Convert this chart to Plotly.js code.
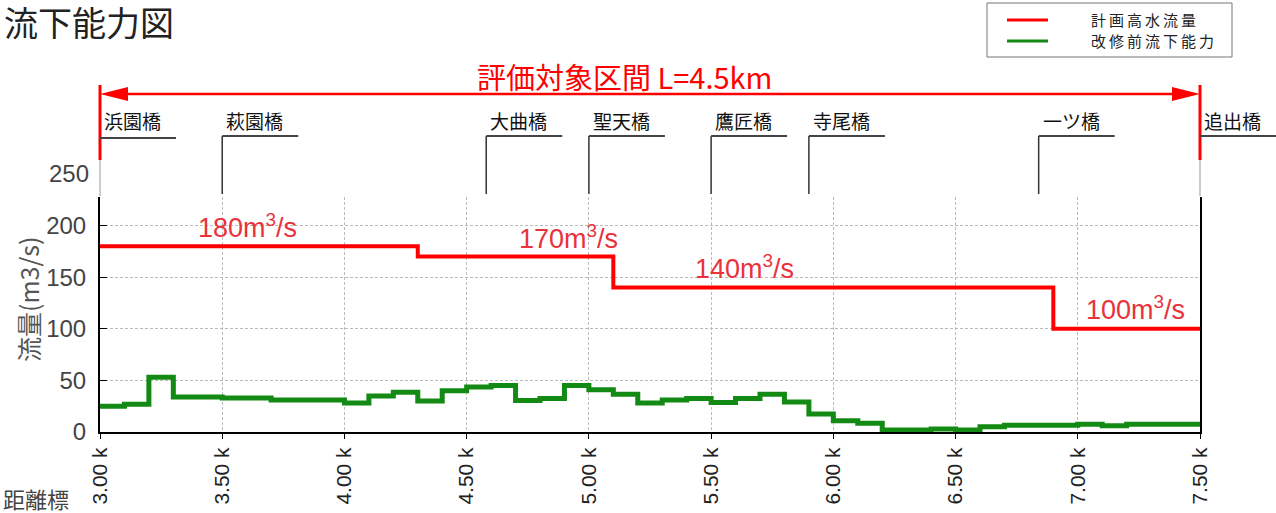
<!DOCTYPE html>
<html><head><meta charset="utf-8">
<script src="https://cdn.plot.ly/plotly-3.0.1.min.js"></script>
<style>html,body{margin:0;padding:0;background:#fff}</style>
</head><body><div id="chart" style="width:1276px;height:513px"></div>
<script>
// ---- data ----
const planX = [3.0, 4.3, 5.1, 6.9, 7.5];
const planY = [180, 170, 140, 100, 100];
const capX = [3.0,3.1,3.2,3.3,3.5,3.7,4.0,4.1,4.2,4.3,4.4,4.5,4.6,4.7,4.8,4.9,5.0,5.1,5.2,5.3,5.4,5.5,5.6,5.7,5.8,5.9,6.0,6.1,6.2,6.4,6.5,6.6,6.7,7.0,7.1,7.2,7.5];
const capY = [25,27,53,34,33,31,28,35,38.5,30,40,43.5,45,30.5,32.5,45,41,36.5,28,31,32.5,28.5,32.5,36.5,29,17.5,11,8.5,2,3,2,5,6.5,7.5,6,7.5,7.5];
const planLabels = ['180', '170', '140', '100'];
const planLabelX = [3.604, 4.918, 5.637, 7.237];
const planLabelY = [200, 189, 160, 120];
const xTickVals = [3.0, 3.5, 4.0, 4.5, 5.0, 5.5, 6.0, 6.5, 7.0, 7.5];
const xTickText = ['3.00 k','3.50 k','4.00 k','4.50 k','5.00 k','5.50 k','6.00 k','6.50 k','7.00 k','7.50 k'];
const yTickVals = [0, 50, 100, 150, 200];
const yTopLabel = 250;
const bridgeNames = ['浜園橋','萩園橋','大曲橋','聖天橋','鷹匠橋','寺尾橋','一ツ橋','追出橋'];
const bridgeKm = [3.0, 3.5, 4.58, 5.0, 5.5, 5.9, 6.84, 7.5];
const sectionText = '評価対象区間 L=4.5km';
const seriesNames = ['計画高水流量', '改修前流下能力'];
const yTitle = '流量(m3/s)';
const xTitle = '距離標';
const chartTitle = '流下能力図';

// ---- layout helpers ----
const W = 1276, H = 513;
const L = 100, R = 1200, T = 197, B = 432;
const xRange = [3.0, 7.5];
const yRange = [0, 227.7];
const pxX = p => (p - L) / (R - L);
const pxY = p => (B - p) / (B - T);
const kmX = km => (km - xRange[0]) / (xRange[1] - xRange[0]);
const PW = R - L;

const RED = '#ff0000';
const LABELRED = '#e8323c';
const GREEN = '#138a13';
const CJK = '"Noto Sans CJK JP", sans-serif';
const LAT = '"Liberation Sans", Arial, sans-serif';

const traces = [
  {x: planX, y: planY, mode: 'lines', line: {shape: 'hv', color: RED, width: 4}, name: seriesNames[0], hoverinfo: 'skip'},
  {x: capX, y: capY, mode: 'lines', line: {shape: 'hv', color: GREEN, width: 5}, name: seriesNames[1], hoverinfo: 'skip'}
];

const shapes = [];
const annotations = [];

// plan value labels
planLabels.forEach((t, i) => {
  annotations.push({x: planLabelX[i], y: planLabelY[i], xref: 'x', yref: 'y', text: t + 'm<sup>3</sup>/s',
    showarrow: false, xanchor: 'center', yanchor: 'middle', font: {family: LAT, size: 27, color: LABELRED}});
});

// 250 label above plot
annotations.push({x: 0, xref: 'paper', y: yTopLabel / yRange[1], yref: 'paper', text: String(yTopLabel), showarrow: false,
  xanchor: 'right', yanchor: 'middle', xshift: -9, font: {family: LAT, size: 24, color: '#444'}});

// section arrow
const ay = pxY(94);
const x0 = kmX(bridgeKm[0]), x1 = kmX(bridgeKm[bridgeKm.length - 1]);
const ah = 28 / PW, aw = 7 / (B - T);
shapes.push({type: 'line', xref: 'paper', yref: 'paper', x0: x0 + ah * 0.8, x1: x1 - ah * 0.8, y0: ay, y1: ay, line: {color: RED, width: 2.5}});
shapes.push({type: 'path', xref: 'paper', yref: 'paper', path: `M${x0},${ay} L${x0 + ah},${ay + aw} L${x0 + ah},${ay - aw} Z`, fillcolor: RED, line: {width: 0}});
shapes.push({type: 'path', xref: 'paper', yref: 'paper', path: `M${x1},${ay} L${x1 - ah},${ay + aw} L${x1 - ah},${ay - aw} Z`, fillcolor: RED, line: {width: 0}});
[x0, x1].forEach(xx => {
  shapes.push({type: 'line', xref: 'paper', yref: 'paper', x0: xx, x1: xx, y0: pxY(160), y1: pxY(196), line: {color: '#999', width: 1}});
  shapes.push({type: 'line', xref: 'paper', yref: 'paper', x0: xx, x1: xx, y0: pxY(85), y1: pxY(160), line: {color: RED, width: 3}});
});
annotations.push({x: pxX(624), y: pxY(76), xref: 'paper', yref: 'paper', text: sectionText, showarrow: false,
  xanchor: 'center', yanchor: 'middle', font: {family: CJK, size: 29, color: RED}});

// bridges
bridgeNames.forEach((nm, i) => {
  const bx = kmX(bridgeKm[i]);
  const first = i === 0, last = i === bridgeNames.length - 1;
  const hy = first ? pxY(138) : pxY(136);
  if (!first && !last) {
    shapes.push({type: 'line', xref: 'paper', yref: 'paper', x0: bx, x1: bx, y0: pxY(194), y1: hy, line: {color: '#333', width: 1.5}});
  }
  shapes.push({type: 'line', xref: 'paper', yref: 'paper', x0: bx, x1: bx + 76 / PW, y0: hy, y1: hy, line: {color: '#444', width: 2}});
  annotations.push({x: bx + 2 / PW, y: pxY(120), xref: 'paper', yref: 'paper', text: nm, showarrow: false,
    xanchor: 'left', yanchor: 'middle', font: {family: CJK, size: 19, color: '#111'}});
});

// legend (manual)
shapes.push({type: 'rect', xref: 'paper', yref: 'paper', x0: pxX(987), x1: pxX(1232), y0: pxY(57), y1: pxY(3), line: {color: '#777', width: 1}, fillcolor: 'rgba(0,0,0,0)'});
const legY = [20, 41];
const legC = [RED, GREEN];
seriesNames.forEach((nm, i) => {
  shapes.push({type: 'line', xref: 'paper', yref: 'paper', x0: pxX(1007), x1: pxX(1048), y0: pxY(legY[i]), y1: pxY(legY[i]), line: {color: legC[i], width: 3}});
  annotations.push({x: pxX(1089), y: pxY(legY[i]), xref: 'paper', yref: 'paper', text: nm.split('').join('\u2009'), showarrow: false,
    xanchor: 'left', yanchor: 'middle', font: {family: CJK, size: 15, color: '#222'}});
});

// axis titles as annotations
annotations.push({x: pxX(1), y: pxY(498), xref: 'paper', yref: 'paper', text: xTitle, showarrow: false,
  xanchor: 'left', yanchor: 'middle', font: {family: CJK, size: 22, color: '#444'}});
annotations.push({x: pxX(28), y: pxY(300), xref: 'paper', yref: 'paper', text: yTitle, showarrow: false, textangle: -90,
  xanchor: 'center', yanchor: 'middle', font: {family: CJK, size: 25, color: '#555'}});

// chart title
annotations.push({x: pxX(2), y: pxY(22), xref: 'paper', yref: 'paper', text: chartTitle, showarrow: false,
  xanchor: 'left', yanchor: 'middle', font: {family: CJK, size: 34, color: '#222'}});

const layout = {
  width: W, height: H,
  margin: {l: L, r: W - R, t: T, b: H - B, pad: 0},
  paper_bgcolor: '#fff', plot_bgcolor: '#fff',
  showlegend: false,
  xaxis: {range: xRange, tickvals: xTickVals, ticktext: xTickText, tickangle: -90,
    ticks: 'outside', ticklen: 5, tickcolor: '#000', showline: true, linecolor: '#000', linewidth: 2, mirror: false,
    showgrid: true, gridcolor: '#bbb', griddash: '3px,2px', gridwidth: 1, zeroline: false,
    tickfont: {family: LAT, size: 21, color: '#222'}},
  yaxis: {range: yRange, tickvals: yTickVals, ticks: 'inside', ticklen: 7, tickcolor: '#000',
    showline: true, linecolor: '#000', linewidth: 2, mirror: true, ticklabelstandoff: 7,
    showgrid: true, gridcolor: '#bbb', griddash: '3px,2px', gridwidth: 1, zeroline: false,
    tickfont: {family: LAT, size: 24, color: '#444'}},
  shapes: shapes,
  annotations: annotations
};

Plotly.newPlot('chart', traces, layout, {displayModeBar: false, staticPlot: true});
</script>
</body></html>
